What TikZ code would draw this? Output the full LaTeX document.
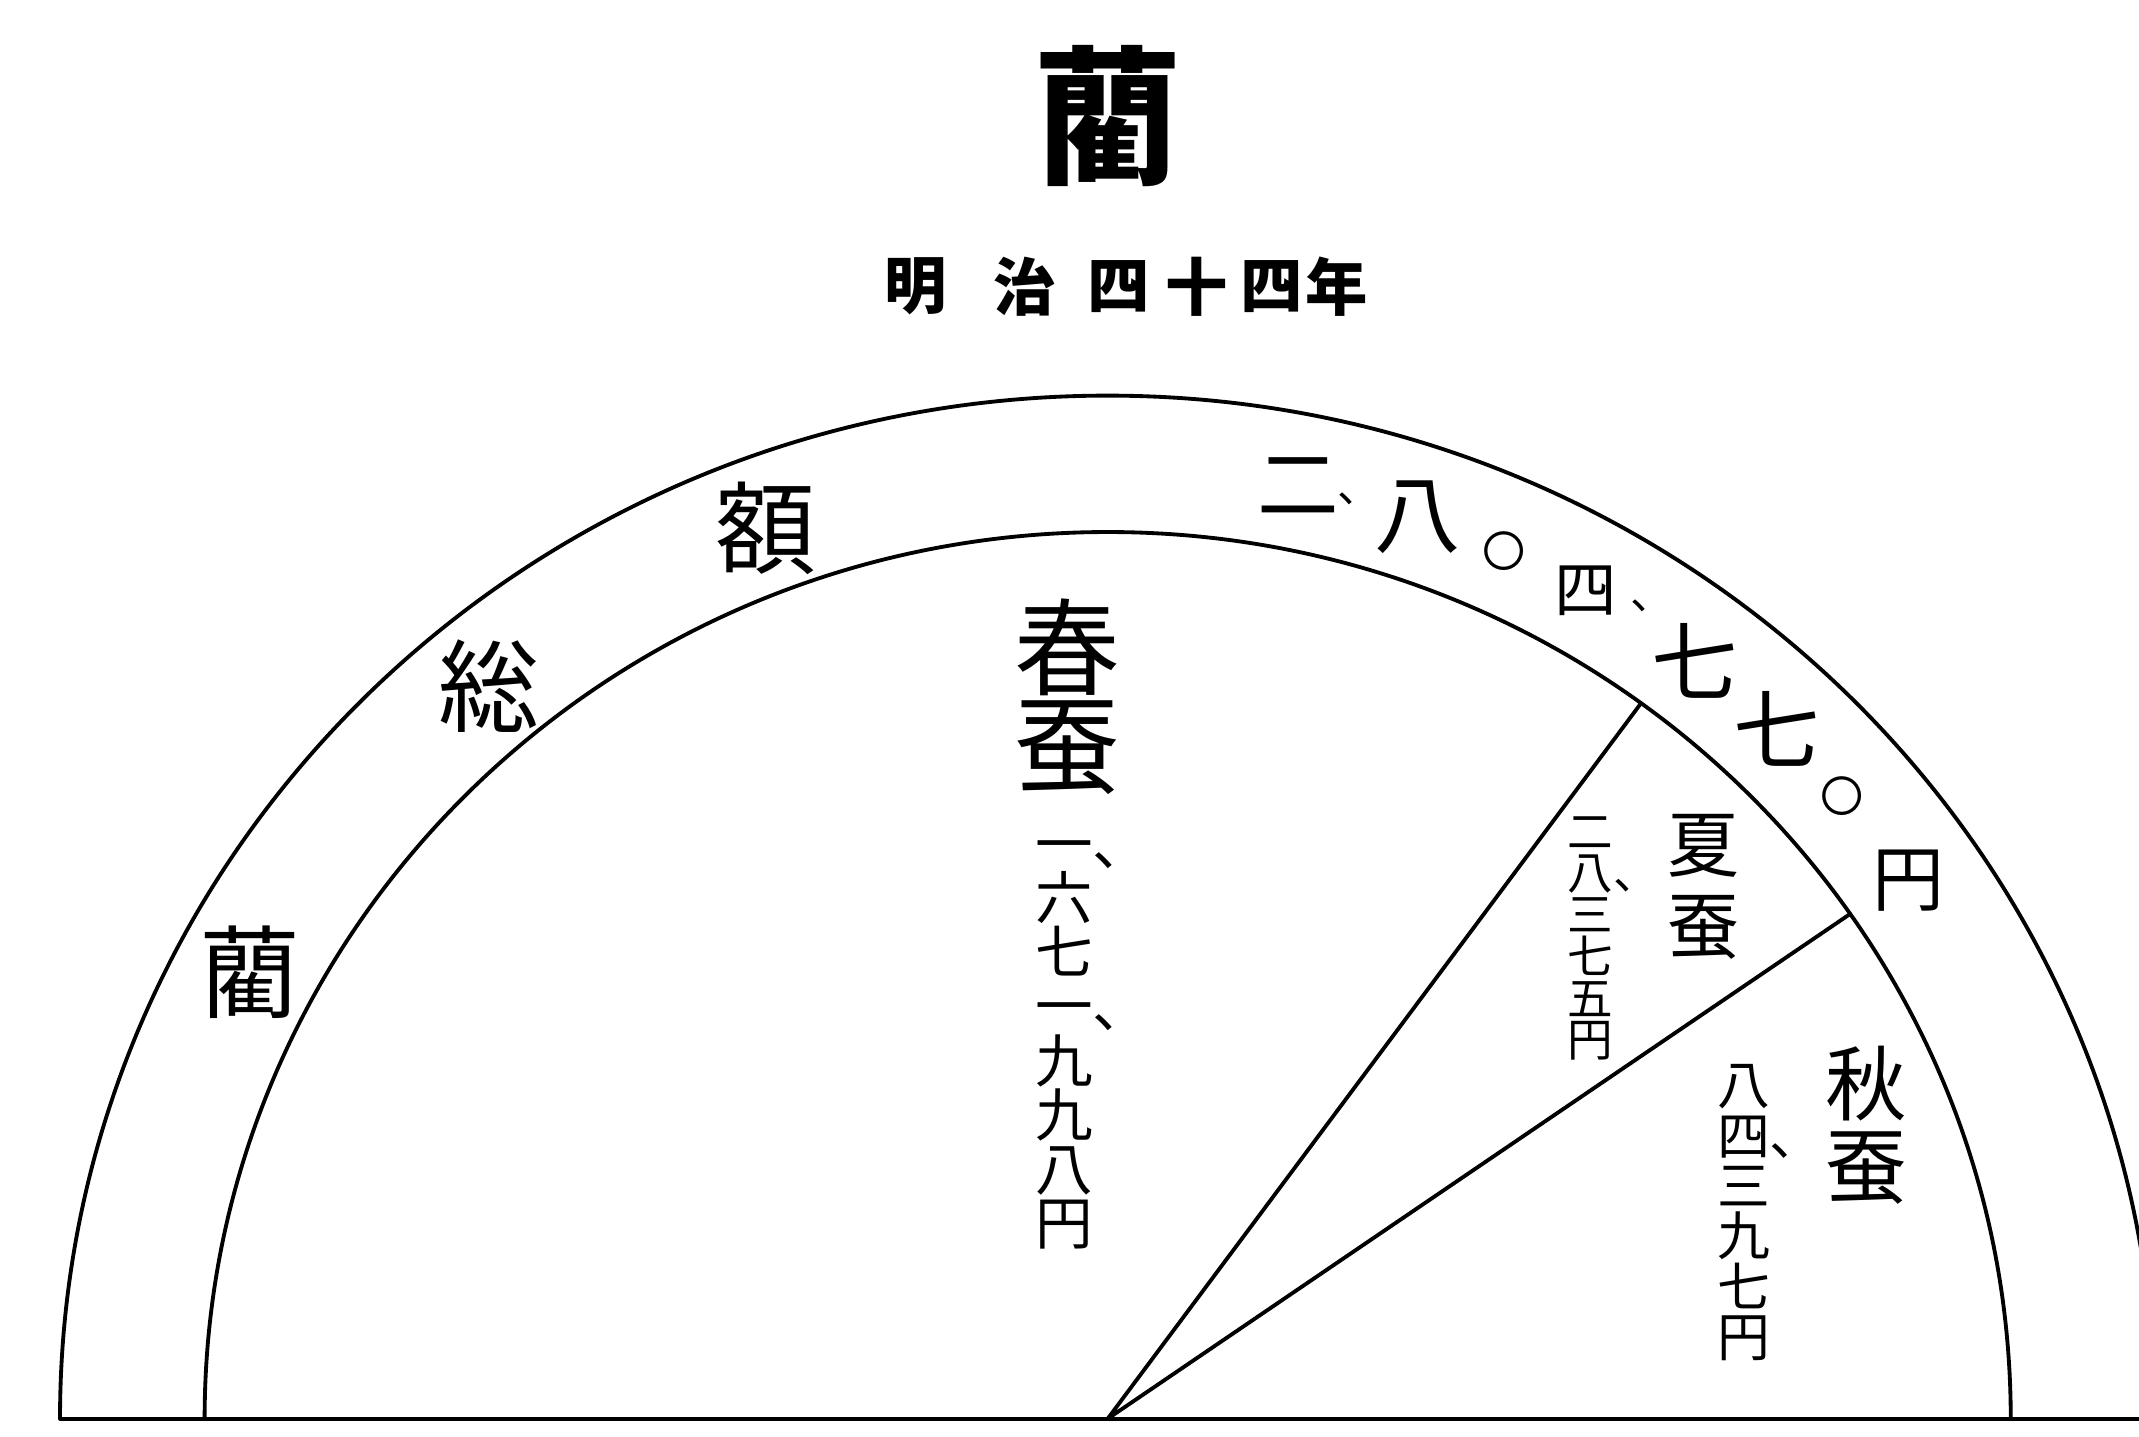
\documentclass[tikz,border=0pt]{standalone}
\usepackage{fontspec}
\newfontfamily\jp{Noto Sans CJK JP}
\newcommand\vc{\rlap{、}}
\begin{document}
\begin{tikzpicture}[x=0.01cm,y=0.01cm,line join=round,line cap=round,line width=0.8pt,font=\jp,
  ring/.style={inner sep=0pt},
  sub/.style={font=\jp\bfseries\fontsize{13}{13}\selectfont,inner sep=0pt},
  col/.style={align=center,inner sep=0pt}]
\useasboundingbox (0,0) rectangle (1568,1053);
\clip (0,0) rectangle (1568,1053);
\def\rax{768}\def\ray{750}
\def\rbx{662}\def\rby{650}
\path
(812,13) coordinate (O)
+(180:768 and 750) coordinate (A)
+(180:662 and 650) coordinate (B)
+(53.8:662 and 650) coordinate (S)
+(34.7:662 and 650) coordinate (T)
(1568,13) coordinate (E)
;
%
\draw (A) arc[start angle=180,end angle=0,x radius=\rax,y radius=\ray];
\draw (B) arc[start angle=180,end angle=0,x radius=\rbx,y radius=\rby];
\draw (A)--(E);
\draw (O)--(S) (O)--(T);
% title
\node[font=\jp\bfseries\fontsize{31}{31}\selectfont,inner sep=0pt] (title) at (812,968) {藺};
\foreach \c/\x [count=\i] in {明/671,治/751,四/820,十/877,四/932,年/980}
\node[sub] (t\i) at (\x,843) {\c};
% ring
\foreach \c/\a/\s [count=\i] in {藺/152/21,総/129.6/21,額/110.6/21,二/78.7/17,八/71.4/18,〇/65.9/9,四/60.5/13,七/52.8/18,七/46.5/18,〇/40.9/9,円/34.5/15}
\node[ring,font=\jp\fontsize{\s}{\s}\selectfont] (r\i) at ([shift={(\a:712 and 697)}]O) {\c};
\node[ring,font=\jp\fontsize{9}{9}\selectfont] (k1) at (996,687) {、};
\node[ring,font=\jp\fontsize{9}{9}\selectfont] (k2) at (1211,609) {、};
% sectors
\node[col,font=\jp\fontsize{22}{19}\selectfont] (spr) at (782,542) {春\\蚕};
\node[col,font=\jp\fontsize{12}{11.3}\selectfont] (sprn) at (780,287) {一\vc\\六\\七\\一\vc\\九\\九\\八\\円};
\node[col,font=\jp\fontsize{15}{17}\selectfont] (sum) at (1249,403) {夏\\蚕};
\node[col,font=\jp\fontsize{9.5}{8.7}\selectfont] (sumn) at (1166,365) {二\\八\vc\\三\\七\\五\\円};
\node[col,font=\jp\fontsize{17}{17}\selectfont] (aut) at (1368,228) {秋\\蚕};
\node[col,font=\jp\fontsize{11}{10.5}\selectfont] (autn) at (1278,164) {八\\四\vc\\三\\九\\七\\円};
\end{tikzpicture}
\end{document}
